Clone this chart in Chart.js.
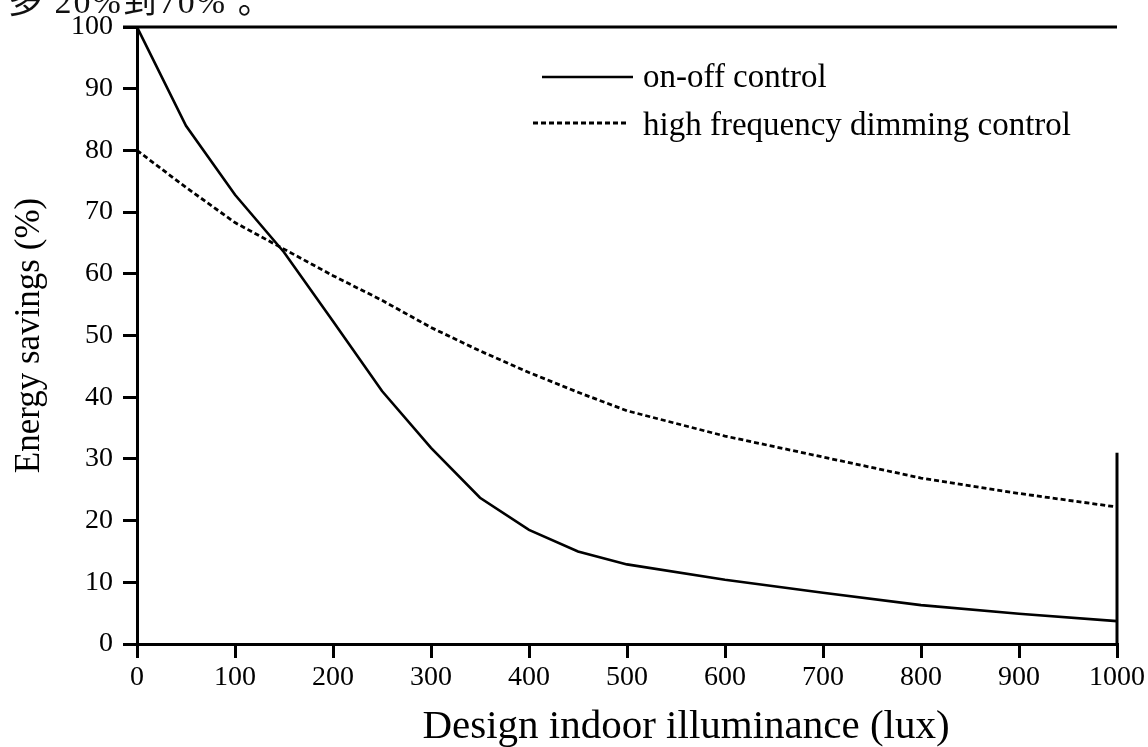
<!DOCTYPE html>
<html>
<head>
<meta charset="utf-8">
<script src="https://cdn.jsdelivr.net/npm/chart.js@4/dist/chart.umd.min.js"></script>
<style>
  html, body { margin: 0; padding: 0; background: #fff; overflow: hidden; }
  #wrap { position: relative; width: 1148px; height: 747px; }
  #note { position: absolute; left: 8px; top: -26px; font: 34px "Liberation Serif", "Noto Sans CJK SC", serif; color: #111; white-space: nowrap; letter-spacing: 2px; }
</style>
</head>
<body>
<div id="wrap">
  <div id="note">多 20%到70% 。</div>
  <canvas id="myChart" width="1148" height="747"></canvas>
</div>
<script>
// illuminance (lux)
const lux = [0, 50, 100, 150, 200, 250, 300, 350, 400, 450, 500, 600, 700, 800, 900, 1000];
// energy savings (%)
const onOff = [100, 84, 72.8, 63.5, 52.3, 41, 31.8, 23.7, 18.5, 15, 12.9, 10.4, 8.3, 6.3, 4.9, 3.7];
const dimming = [80, 74, 68.3, 64, 59.7, 55.7, 51.3, 47.5, 44, 40.8, 37.8, 33.7, 30.3, 26.9, 24.4, 22.2];
const seriesNames = ['on-off control', 'high frequency dimming control'];
const xTitle = 'Design indoor illuminance (lux)';
const yTitle = 'Energy savings (%)';

const serif = '"Liberation Serif", "Times New Roman", serif';

function pts(ys) {
    return lux.map(function (x, i) { return {x: x, y: ys[i]}; });
}

// frame lines, x title and the legend inside the plot
const extras = {
    id: 'extras',
    afterDraw: function (chart) {
        const ctx = chart.ctx;
        const a = chart.chartArea;
        const ys = chart.scales.y;
        ctx.save();
        ctx.strokeStyle = '#000';
        ctx.lineWidth = 3;
        ctx.beginPath();
        ctx.moveTo(a.left - 14, a.top);
        ctx.lineTo(a.right, a.top);
        ctx.stroke();
        ctx.beginPath();
        ctx.moveTo(a.right, a.bottom);
        ctx.lineTo(a.right, ys.getPixelForValue(31));
        ctx.stroke();

        ctx.fillStyle = '#000';
        ctx.font = '41px ' + serif;
        ctx.textAlign = 'center';
        ctx.textBaseline = 'alphabetic';
        ctx.fillText(xTitle, a.left + 549, 738);

        ctx.font = '33px ' + serif;
        ctx.textAlign = 'left';
        const items = [
            {x0: a.left + 405, x1: a.left + 496, y: 77, base: 87},
            {x0: a.left + 396, x1: a.left + 491, y: 123, base: 135}
        ];
        chart.data.datasets.forEach(function (ds, i) {
            const it = items[i];
            ctx.lineWidth = ds.borderWidth;
            ctx.setLineDash(ds.borderDash || []);
            ctx.beginPath();
            ctx.moveTo(it.x0, it.y);
            ctx.lineTo(it.x1, it.y);
            ctx.stroke();
            ctx.setLineDash([]);
            ctx.fillText(ds.label, a.left + 506, it.base);
        });
        ctx.restore();
    }
};

const ctx = document.getElementById('myChart');

new Chart(ctx, {
    type: 'line',
    data: {
        datasets: [{
            label: seriesNames[0],
            data: pts(onOff),
            borderColor: '#000',
            borderWidth: 2.6,
            pointRadius: 0,
            tension: 0
        }, {
            label: seriesNames[1],
            data: pts(dimming),
            borderColor: '#000',
            borderWidth: 2.8,
            borderDash: [5, 3],
            pointRadius: 0,
            tension: 0
        }]
    },
    options: {
        responsive: false,
        animation: false,
        layout: {padding: {top: 27, right: 31, left: 0, bottom: 0}},
        plugins: {
            legend: {display: false},
            tooltip: {enabled: false}
        },
        scales: {
            x: {
                type: 'linear',
                min: 0,
                max: 1000,
                afterFit: function (s) { s.height = 103; s.paddingRight = 0; s.paddingLeft = 0; },
                ticks: {stepSize: 100, color: '#000', padding: 3, maxRotation: 0, font: {family: serif, size: 28},
                    callback: function (v) { return String(v); }},
                grid: {drawOnChartArea: false, drawTicks: true, tickLength: 14, color: '#000', lineWidth: 3},
                border: {display: true, color: '#000', width: 3}
            },
            y: {
                min: 0,
                max: 100,
                afterFit: function (s) { s.width = 137; },
                ticks: {stepSize: 10, color: '#000', padding: 10, font: {family: serif, size: 28}},
                grid: {drawOnChartArea: false, drawTicks: true, tickLength: 14, color: '#000', lineWidth: 3},
                border: {display: true, color: '#000', width: 3},
                title: {display: true, text: yTitle, color: '#000', padding: {top: 9, bottom: 0}, font: {family: serif, size: 35, weight: 'normal'}}
            }
        }
    },
    plugins: [extras]
});
</script>
</body>
</html>
